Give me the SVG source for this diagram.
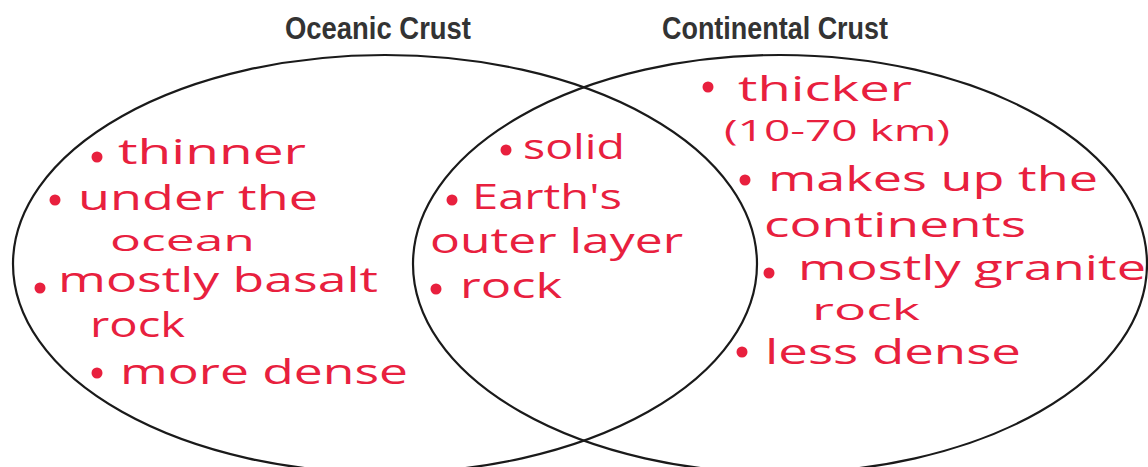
<svg xmlns="http://www.w3.org/2000/svg" width="1148" height="467" viewBox="0 0 1148 467">
<style>
.ring{fill:none;stroke:#1a1a1a;stroke-width:2.2}
.title{font-family:"Liberation Sans Narrow","Liberation Sans",Arial,sans-serif;font-weight:bold;font-size:32px;fill:#333}
.hw{font-family:"Open Sans","Liberation Sans",sans-serif;font-size:34px;fill:#e8203e}
.sm{font-size:30px}
.dot{fill:#e8203e}
</style>
<rect width="1148" height="467" fill="#fff"/>
<g id="oceanic-crust">
<ellipse class="ring" cx="385" cy="264" rx="372" ry="209"/>
<text class="title" x="285" y="39" textLength="186" lengthAdjust="spacingAndGlyphs">Oceanic Crust</text>
<circle class="dot" cx="97" cy="157" r="5.5"/>
<text class="hw" x="118" y="164" textLength="188" lengthAdjust="spacingAndGlyphs">thinner</text>
<circle class="dot" cx="55" cy="200" r="5.5"/>
<text class="hw" x="78" y="210" textLength="240" lengthAdjust="spacingAndGlyphs">under the</text>
<text class="hw sm" x="110" y="251" textLength="145" lengthAdjust="spacingAndGlyphs">ocean</text>
<circle class="dot" cx="40" cy="288" r="5.5"/>
<text class="hw" x="58" y="292" textLength="320" lengthAdjust="spacingAndGlyphs">mostly basalt</text>
<text class="hw" x="90" y="337" textLength="95" lengthAdjust="spacingAndGlyphs">rock</text>
<circle class="dot" cx="97" cy="373" r="5.5"/>
<text class="hw" x="120" y="384" textLength="288" lengthAdjust="spacingAndGlyphs">more dense</text>
</g>
<g id="continental-crust">
<ellipse class="ring" cx="780" cy="264" rx="367" ry="209"/>
<text class="title" x="662" y="39" textLength="226" lengthAdjust="spacingAndGlyphs">Continental Crust</text>
<circle class="dot" cx="708" cy="87" r="5.5"/>
<text class="hw" x="738" y="101" textLength="174" lengthAdjust="spacingAndGlyphs">thicker</text>
<text class="hw sm" x="724" y="141" textLength="226" lengthAdjust="spacingAndGlyphs">(10-70 km)</text>
<circle class="dot" cx="745" cy="180" r="5.5"/>
<text class="hw" x="768" y="191" textLength="330" lengthAdjust="spacingAndGlyphs">makes up the</text>
<text class="hw" x="764" y="237" textLength="262" lengthAdjust="spacingAndGlyphs">continents</text>
<circle class="dot" cx="769" cy="273" r="5.5"/>
<text class="hw" x="798" y="280" textLength="348" lengthAdjust="spacingAndGlyphs">mostly granite</text>
<text class="hw sm" x="812" y="320" textLength="108" lengthAdjust="spacingAndGlyphs">rock</text>
<circle class="dot" cx="742" cy="352" r="5.5"/>
<text class="hw" x="765" y="364" textLength="256" lengthAdjust="spacingAndGlyphs">less dense</text>
</g>
<g id="shared">
<circle class="dot" cx="506" cy="150" r="5.5"/>
<text class="hw" x="523" y="159" textLength="102" lengthAdjust="spacingAndGlyphs">solid</text>
<circle class="dot" cx="452" cy="200" r="5.5"/>
<text class="hw" x="472" y="209" textLength="150" lengthAdjust="spacingAndGlyphs">Earth's</text>
<text class="hw" x="430" y="253" textLength="253" lengthAdjust="spacingAndGlyphs">outer layer</text>
<circle class="dot" cx="436" cy="289" r="5.5"/>
<text class="hw" x="460" y="298" textLength="102" lengthAdjust="spacingAndGlyphs">rock</text>
</g>
<g id="connectors"/>
</svg>
